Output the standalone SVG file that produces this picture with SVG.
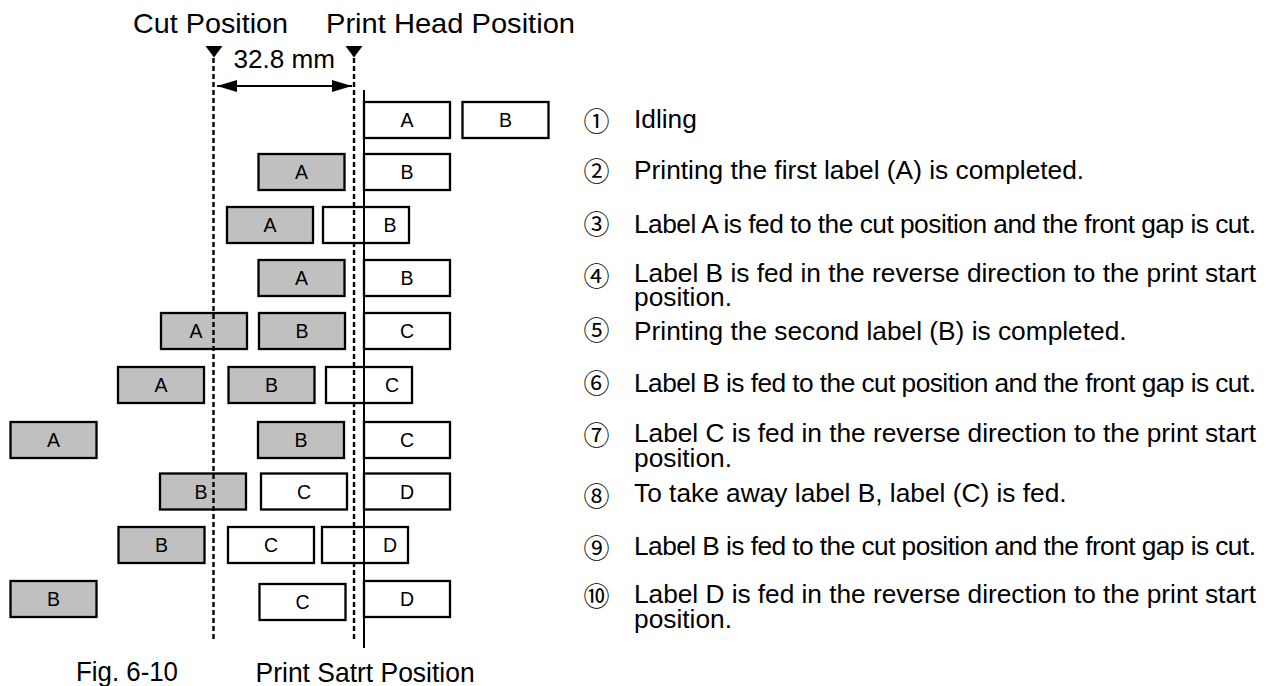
<svg xmlns="http://www.w3.org/2000/svg" width="1268" height="686" viewBox="0 0 1268 686">
<defs>
<style>
.box{stroke:#000;stroke-width:2.3}
.w{fill:#fff}
.g{fill:#c0c0c0}
.lb{font-family:"Liberation Sans",Arial,sans-serif;font-size:19.5px;text-anchor:middle;fill:#000}
.t{font-family:"Liberation Sans",Arial,sans-serif;font-size:26.3px;fill:#000}
.h{font-family:"Liberation Sans",Arial,sans-serif;font-size:27.5px;fill:#000}
.n{font-family:"Noto Sans CJK JP","DejaVu Sans",sans-serif;font-size:26px;text-anchor:middle;fill:#000}
.dash{stroke:#000;stroke-width:2.4;stroke-dasharray:5 3;fill:none}
.solid{stroke:#000;stroke-width:2;fill:none}
</style>
<marker id="ah" viewBox="0 0 20 12" refX="20" refY="6" markerWidth="20" markerHeight="12" markerUnits="userSpaceOnUse" orient="auto-start-reverse"><path d="M0,0 L20,6 L0,12 Z" fill="#000"/></marker>
</defs>
<rect width="1268" height="686" fill="#fff"/>

<g id="headings">
<text class="h" x="133" y="32.5" textLength="155" lengthAdjust="spacingAndGlyphs">Cut Position</text>
<text class="h" x="326" y="32.5" textLength="249" lengthAdjust="spacingAndGlyphs">Print Head Position</text>
<text class="t" x="233.5" y="68.3" textLength="101.5" lengthAdjust="spacingAndGlyphs" style="font-size:25.5px">32.8 mm</text>
<text class="h" x="76" y="681" textLength="102" lengthAdjust="spacingAndGlyphs">Fig. 6-10</text>
<text class="h" x="255.6" y="681.5" textLength="219" lengthAdjust="spacingAndGlyphs">Print Satrt Position</text>
</g>

<!-- row 1 -->
<g id="r1-A"><rect class="box w" x="364" y="102" width="86" height="36"/><text class="lb" x="407" y="127">A</text></g>
<g id="r1-B"><rect class="box w" x="462.5" y="102" width="86" height="36"/><text class="lb" x="505.5" y="127">B</text></g>
<!-- row 2 -->
<g id="r2-A"><rect class="box g" x="258.5" y="154" width="86" height="36"/><text class="lb" x="301.5" y="179">A</text></g>
<g id="r2-B"><rect class="box w" x="364" y="154" width="86" height="36"/><text class="lb" x="407" y="179">B</text></g>
<!-- row 3 -->
<g id="r3-A"><rect class="box g" x="227" y="207" width="86" height="36"/><text class="lb" x="270" y="232">A</text></g>
<g id="r3-B"><rect class="box w" x="323" y="207" width="86" height="36"/><text class="lb" x="390" y="232">B</text></g>
<!-- row 4 -->
<g id="r4-A"><rect class="box g" x="258.5" y="260" width="86" height="36"/><text class="lb" x="301.5" y="285">A</text></g>
<g id="r4-B"><rect class="box w" x="364" y="260" width="86" height="36"/><text class="lb" x="407" y="285">B</text></g>
<!-- row 5 -->
<g id="r5-A"><rect class="box g" x="161" y="313" width="86" height="36"/><text class="lb" x="196" y="338">A</text></g>
<g id="r5-B"><rect class="box g" x="259" y="313" width="86" height="36"/><text class="lb" x="302" y="338">B</text></g>
<g id="r5-C"><rect class="box w" x="364" y="313" width="86" height="36"/><text class="lb" x="407" y="338">C</text></g>
<!-- row 6 -->
<g id="r6-A"><rect class="box g" x="118" y="367" width="86" height="36"/><text class="lb" x="161" y="392">A</text></g>
<g id="r6-B"><rect class="box g" x="228.5" y="367" width="86" height="36"/><text class="lb" x="271.5" y="392">B</text></g>
<g id="r6-C"><rect class="box w" x="326" y="367" width="86" height="36"/><text class="lb" x="392" y="392">C</text></g>
<!-- row 7 -->
<g id="r7-A"><rect class="box g" x="10.5" y="422" width="86" height="36"/><text class="lb" x="53.5" y="447">A</text></g>
<g id="r7-B"><rect class="box g" x="258" y="422" width="86" height="36"/><text class="lb" x="301" y="447">B</text></g>
<g id="r7-C"><rect class="box w" x="364" y="422" width="86" height="36"/><text class="lb" x="407" y="447">C</text></g>
<!-- row 8 -->
<g id="r8-B"><rect class="box g" x="160" y="473.5" width="86" height="36"/><text class="lb" x="201" y="498.5">B</text></g>
<g id="r8-C"><rect class="box w" x="261" y="473.5" width="86" height="36"/><text class="lb" x="304" y="498.5">C</text></g>
<g id="r8-D"><rect class="box w" x="364" y="473.5" width="86" height="36"/><text class="lb" x="407" y="498.5">D</text></g>
<!-- row 9 -->
<g id="r9-B"><rect class="box g" x="118.5" y="527" width="86" height="36"/><text class="lb" x="161.5" y="552">B</text></g>
<g id="r9-C"><rect class="box w" x="228" y="527" width="86" height="36"/><text class="lb" x="271" y="552">C</text></g>
<g id="r9-D"><rect class="box w" x="322" y="527" width="86" height="36"/><text class="lb" x="390" y="552">D</text></g>
<!-- row 10 -->
<g id="r10-B"><rect class="box g" x="10.5" y="581" width="86" height="36"/><text class="lb" x="53.5" y="606">B</text></g>
<g id="r10-C"><rect class="box w" x="259.5" y="584" width="86" height="36"/><text class="lb" x="302.5" y="609">C</text></g>
<g id="r10-D"><rect class="box w" x="364" y="581" width="86" height="36"/><text class="lb" x="407" y="606">D</text></g>

<g id="connectors">
<polygon points="205.5,46 222.5,46 214,57.5" fill="#000"/>
<polygon points="345.5,46 362.5,46 354,57.5" fill="#000"/>
<line class="dash" x1="213.5" y1="58" x2="213.5" y2="641"/>
<line class="dash" x1="354" y1="58" x2="354" y2="641"/>
<line class="solid" x1="364" y1="90" x2="364" y2="648"/>
<line class="solid" x1="217" y1="86" x2="352" y2="86" marker-start="url(#ah)" marker-end="url(#ah)"/>
</g>

<g id="steps">
<g id="s1"><text class="n" x="596.6" y="131">①</text><text class="t" x="634" y="128.3">Idling</text></g>
<g id="s2"><text class="n" x="596.6" y="181">②</text><text class="t" x="634" y="179">Printing the first label (A) is completed.</text></g>
<g id="s3"><text class="n" x="596.6" y="233.5">③</text><text class="t" x="634" y="232.7" textLength="622" lengthAdjust="spacing">Label A is fed to the cut position and the front gap is cut.</text></g>
<g id="s4"><text class="n" x="596.6" y="286">④</text><text class="t"><tspan x="634" y="281.7" textLength="622" lengthAdjust="spacing">Label B is fed in the reverse direction to the print start</tspan><tspan x="634" y="306">position.</tspan></text></g>
<g id="s5"><text class="n" x="596.6" y="339.5">⑤</text><text class="t" x="634" y="340">Printing the second label (B) is completed.</text></g>
<g id="s6"><text class="n" x="596.6" y="392.5">⑥</text><text class="t" x="634" y="391.7" textLength="622" lengthAdjust="spacing">Label B is fed to the cut position and the front gap is cut.</text></g>
<g id="s7"><text class="n" x="596.6" y="444.5">⑦</text><text class="t"><tspan x="634" y="442.3" textLength="622" lengthAdjust="spacing">Label C is fed in the reverse direction to the print start</tspan><tspan x="634" y="467">position.</tspan></text></g>
<g id="s8"><text class="n" x="596.6" y="506">⑧</text><text class="t" x="634" y="501.7">To take away label B, label (C) is fed.</text></g>
<g id="s9"><text class="n" x="596.6" y="557.5">⑨</text><text class="t" x="634" y="555" textLength="622" lengthAdjust="spacing">Label B is fed to the cut position and the front gap is cut.</text></g>
<g id="s10"><text class="n" x="596.6" y="606">⑩</text><text class="t"><tspan x="634" y="603.3" textLength="622" lengthAdjust="spacing">Label D is fed in the reverse direction to the print start</tspan><tspan x="634" y="628">position.</tspan></text></g>
</g>
</svg>
